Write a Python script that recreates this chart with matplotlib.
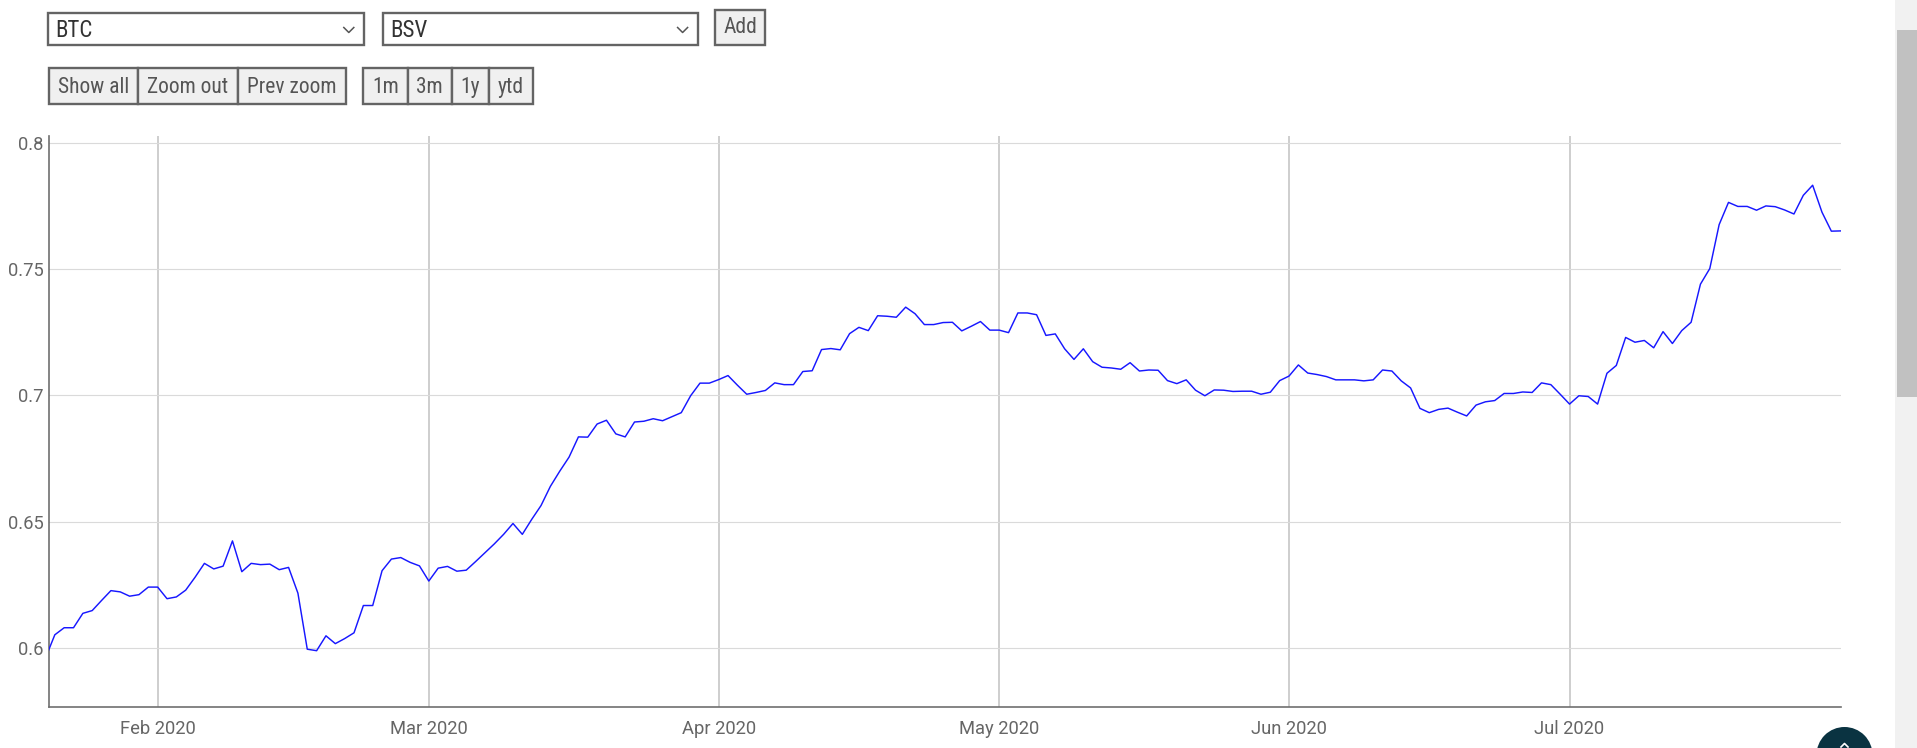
import matplotlib
matplotlib.use("Agg")
import matplotlib.pyplot as plt
from matplotlib.patches import Rectangle, Circle
from matplotlib import font_manager
import pandas as pd

# ---------------- data (daily correlation BTC / BSV) ----------------
start_date = "2020-01-20"
jan = [0.596, 0.6052, 0.608, 0.608, 0.6137, 0.6148, 0.6188, 0.6227, 0.6222, 0.6205,
       0.6211, 0.6241]
feb = [0.6241, 0.6195, 0.6202, 0.6229, 0.628, 0.6335, 0.6313, 0.6324, 0.6424, 0.6302,
       0.6335, 0.633, 0.6332, 0.631, 0.6319, 0.6217, 0.5995, 0.5989, 0.6048, 0.6017,
       0.6037, 0.606, 0.6168, 0.6168, 0.6306, 0.6352, 0.6358, 0.6339, 0.6325]
mar = [0.6265, 0.6316, 0.6323, 0.6304, 0.6308, 0.6342, 0.6377, 0.6412, 0.645, 0.6493,
       0.645, 0.6509, 0.6564, 0.664, 0.670, 0.6756, 0.6836, 0.6835, 0.6887, 0.6902,
       0.6848, 0.6836, 0.6895, 0.6898, 0.6908, 0.690, 0.6916, 0.6932, 0.6999, 0.7049,
       0.7049]
apr = [0.7063, 0.7079, 0.7041, 0.7005, 0.7012, 0.702, 0.705, 0.7043, 0.7043, 0.7095,
       0.7098, 0.7182, 0.7186, 0.7181, 0.7245, 0.727, 0.7257, 0.7316, 0.7314, 0.731,
       0.735, 0.7324, 0.7281, 0.7281, 0.7289, 0.729, 0.7256, 0.7274, 0.7293, 0.7259]
may = [0.7259, 0.7249, 0.7327, 0.7327, 0.732, 0.7238, 0.7244, 0.7185, 0.7143, 0.7185,
       0.7134, 0.7112, 0.7109, 0.7104, 0.713, 0.7097, 0.7101, 0.710, 0.7059, 0.7047,
       0.7062, 0.7021, 0.6999, 0.7022, 0.7021, 0.7016, 0.7017, 0.7017, 0.7005, 0.7013,
       0.7059]
jun = [0.7077, 0.7121, 0.7089, 0.7083, 0.7075, 0.7062, 0.7062, 0.7062, 0.7058, 0.7062,
       0.7101, 0.7097, 0.7058, 0.703, 0.6949, 0.6932, 0.6945, 0.695, 0.6934, 0.6919,
       0.6962, 0.6975, 0.698, 0.7008, 0.7008, 0.7014, 0.7012, 0.705, 0.7043, 0.7005]
jul = [0.6966, 0.6999, 0.6996, 0.6966, 0.7088, 0.7119, 0.723, 0.7211, 0.7218, 0.7189,
       0.7253, 0.7206, 0.7257, 0.729, 0.7441, 0.7503, 0.7677, 0.7765, 0.7749, 0.7749,
       0.7734, 0.7751, 0.7748, 0.7735, 0.7719, 0.7793, 0.7833, 0.7726, 0.7651, 0.7652]

month_ticks = ["2020-02-01", "2020-03-01", "2020-04-01", "2020-05-01", "2020-06-01", "2020-07-01"]
month_labels = ["Feb 2020", "Mar 2020", "Apr 2020", "May 2020", "Jun 2020", "Jul 2020"]
y_ticks = [0.6, 0.65, 0.7, 0.75, 0.8]
y_labels = ["0.6", "0.65", "0.7", "0.75", "0.8"]

select_labels = ["BTC", "BSV"]
add_label = "Add"
zoom_buttons = ["Show all", "Zoom out", "Prev zoom"]
range_buttons = ["1m", "3m", "1y", "ytd"]

values = jan + feb + mar + apr + may + jun + jul
dates = pd.date_range(start_date, periods=len(values), freq="D")

# ---------------- figure ----------------
W, H, DPI = 1917, 748, 100
fig = plt.figure(figsize=(W / DPI, H / DPI), dpi=DPI)
fig.patch.set_facecolor("white")

names = {f.name for f in font_manager.fontManager.ttflist}
base_font = "Roboto" if "Roboto" in names else "DejaVu Sans"
cond_font = "Roboto Condensed" if "Roboto Condensed" in names else base_font
is_cond = cond_font != base_font
btn_size = 15.5 if is_cond else 14
sel_size = 16.5 if is_cond else 15.5

# main plot axes (pixel geometry of reference)
L, R, T, B = 48.9, 1840.7, 136.0, 707.0
ax = fig.add_axes([L / W, 1 - B / H, (R - L) / W, (B - T) / H])
ax.plot(dates, values, color="#1717ff", lw=1.05, zorder=3)

ax.set_xlim(pd.Timestamp("2020-01-20 08:50"), pd.Timestamp("2020-07-30"))
ax.set_ylim(0.5766, 0.8028)
ax.set_xticks(pd.to_datetime(month_ticks))
ax.set_xticklabels(month_labels)
ax.set_yticks(y_ticks)
ax.set_yticklabels(y_labels)
ax.set_axisbelow(True)
ax.grid(axis="x", color="#c4c4c4", lw=1.15)
ax.grid(axis="y", color="#dadada", lw=0.8)
for s in ["top", "right"]:
    ax.spines[s].set_visible(False)
for s in ["left", "bottom"]:
    ax.spines[s].set_color("#6f6f6f")
    ax.spines[s].set_linewidth(1.2)
ax.tick_params(axis="both", length=0, labelsize=13.2, labelcolor="#666666")
ax.tick_params(axis="y", pad=4)
ax.tick_params(axis="x", pad=9)
for lab in ax.get_xticklabels() + ax.get_yticklabels():
    lab.set_fontfamily(base_font)

# ---------------- overlay: page controls ----------------
ov = fig.add_axes([0, 0, 1, 1])
ov.set_xlim(0, W)
ov.set_ylim(H, 0)
ov.axis("off")

def box(x0, x1, y0, y1, face):
    ov.add_patch(Rectangle((x0, y0), x1 - x0, y1 - y0, facecolor=face,
                           edgecolor="#646464", lw=1.7))

# select boxes
sel_geo = [(47.7, 364.3), (382.7, 698.1)]
for (x0, x1), lab in zip(sel_geo, select_labels):
    box(x0, x1, 13.4, 45.2, "white")
    ov.text(x0 + 8, 30.0, lab, fontsize=sel_size, family=cond_font, color="#333333",
            ha="left", va="center")
    cx = x1 - 15.5
    ov.plot([cx - 5, cx, cx + 5], [27.5, 32.5, 27.5], color="#555555", lw=1.1)

# Add button
box(715.2, 765.4, 9.8, 45.2, "#f0f0f0")
ov.text(740.3, 27.5, add_label, fontsize=btn_size, family=cond_font, color="#555555",
        ha="center", va="center")

# zoom buttons
zoom_edges = [48.9, 137.5, 238.0, 346.0]
for i, lab in enumerate(zoom_buttons):
    x0, x1 = zoom_edges[i], zoom_edges[i + 1]
    box(x0, x1, 68.4, 104.0, "#f0f0f0")
    ov.text((x0 + x1) / 2, 87.0, lab, fontsize=btn_size, family=cond_font,
            color="#555555", ha="center", va="center")

range_edges = [363.1, 407.6, 452.0, 488.5, 532.6]
for i, lab in enumerate(range_buttons):
    x0, x1 = range_edges[i], range_edges[i + 1]
    box(x0, x1, 68.4, 104.0, "#f0f0f0")
    ov.text((x0 + x1) / 2, 87.0, lab, fontsize=btn_size, family=cond_font,
            color="#555555", ha="center", va="center")

# scrollbar
ov.add_patch(Rectangle((1895, 0), 22, H, facecolor="#f1f1f1", edgecolor="none"))
ov.add_patch(Rectangle((1897, 30), 20, 367, facecolor="#c1c1c1", edgecolor="none"))

# floating round button (cut at bottom)
ov.add_patch(Circle((1844.5, 755.0), 28, facecolor="#0a3341", edgecolor="none"))
ov.plot([1841, 1844.5, 1848], [747, 743.5, 747], color="white", lw=1.2)

fig.savefig("out.png", dpi=DPI, facecolor="white")
